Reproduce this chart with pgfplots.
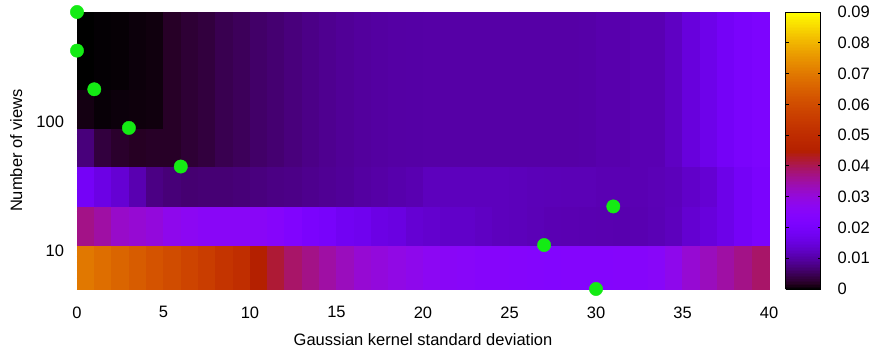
\documentclass[border=0pt]{standalone}
\usepackage{pgfplots}
\pgfplotsset{compat=1.18}
\usepackage{fontspec}
\setmainfont{Liberation Sans}
\definecolor{ptgreen}{RGB}{20,235,20}
% gnuplot default palette (rgbformulae 7,5,15), sampled every 0.02
\pgfplotsset{colormap={gpcolor}{
 rgb=(0,0,0) rgb=(0.1414,0,0.1253) rgb=(0.2,0.0001,0.2487) rgb=(0.2449,0.0002,0.3681)
 rgb=(0.2828,0.0005,0.4818) rgb=(0.3162,0.001,0.5878) rgb=(0.3464,0.0017,0.6845)
 rgb=(0.3742,0.0027,0.7705) rgb=(0.4,0.0041,0.8443) rgb=(0.4243,0.0058,0.9048)
 rgb=(0.4472,0.008,0.9511) rgb=(0.469,0.0106,0.9823) rgb=(0.4899,0.0138,0.998)
 rgb=(0.5099,0.0176,0.998) rgb=(0.5292,0.022,0.9823) rgb=(0.5477,0.027,0.9511)
 rgb=(0.5657,0.0328,0.9048) rgb=(0.5831,0.0393,0.8443) rgb=(0.6,0.0467,0.7705)
 rgb=(0.6164,0.0549,0.6845) rgb=(0.6325,0.064,0.5878) rgb=(0.6481,0.0741,0.4818)
 rgb=(0.6633,0.0852,0.3681) rgb=(0.6782,0.0973,0.2487) rgb=(0.6928,0.1106,0.1253)
 rgb=(0.7071,0.125,0) rgb=(0.7211,0.1406,0) rgb=(0.7348,0.1575,0) rgb=(0.7483,0.1756,0)
 rgb=(0.7616,0.1951,0) rgb=(0.7746,0.216,0) rgb=(0.7874,0.2383,0) rgb=(0.8,0.2621,0)
 rgb=(0.8124,0.2875,0) rgb=(0.8246,0.3144,0) rgb=(0.8367,0.343,0) rgb=(0.8485,0.3732,0)
 rgb=(0.8602,0.4052,0) rgb=(0.8718,0.439,0) rgb=(0.8832,0.4746,0) rgb=(0.8944,0.512,0)
 rgb=(0.9055,0.5514,0) rgb=(0.9165,0.5927,0) rgb=(0.9274,0.6361,0) rgb=(0.9381,0.6815,0)
 rgb=(0.9487,0.729,0) rgb=(0.9592,0.7787,0) rgb=(0.9695,0.8306,0) rgb=(0.9798,0.8847,0)
 rgb=(0.9899,0.9412,0) rgb=(1,1,0)}}
\begin{document}
\begin{tikzpicture}
\useasboundingbox (-77pt,-64pt) rectangle (793pt,289pt);
\begin{axis}[
  at={(0pt,0pt)}, anchor=south west,
  scale only axis, width=692pt, height=277pt,
  xmin=0, xmax=40, ymin=5, ymax=720, ymode=log,
  xtick={0,5,...,40},
  ytick={10,100}, yticklabels={10,100},
  minor ytick={5,6,7,8,9,20,30,40,50,60,70,80,90,200,300,400,500,600,700},
  tick align=inside, tick pos=both,
  major tick length=4.5pt, minor tick length=2.5pt,
  every tick/.style={black, line width=0.8pt},
  axis line style={line width=0.8pt},
  tick label style={font=\fontsize{16.5}{19}\selectfont},
  label style={font=\fontsize{16.5}{19}\selectfont},
  /pgf/number format/assume math mode=true,
  xticklabel style={yshift=-14pt},
  yticklabel style={xshift=-9.5pt},
  xlabel={Gaussian kernel standard deviation},
  ylabel={Number of views},
  xlabel style={at={(axis description cs:0.5,-0.184)}, anchor=center},
  ylabel style={at={(axis description cs:-0.088,0.5)}, anchor=center},
  colormap name=gpcolor,
  point meta min=0, point meta max=0.09,
  colorbar sampled,
  colorbar style={
    at={(parent axis.north east)}, anchor=north west, xshift=8pt,
    scale only axis, width=35pt, height=277pt,
    samples=181,
    ymin=0, ymax=0.09, scaled y ticks=false,
    ytick={0,0.01,0.02,0.03,0.04,0.05,0.06,0.07,0.08,0.09},
    yticklabels={0,0.01,0.02,0.03,0.04,0.05,0.06,0.07,0.08,0.09},
    tick align=inside, ytick pos=both, yticklabel pos=right,
    major tick length=3pt,
    every tick/.style={black, line width=0.8pt},
    axis line style={line width=0.8pt},
    yticklabel style={font=\fontsize{16.5}{19}\selectfont, xshift=13.5pt},
  },
  clip=false,
]
\addplot[surf, shader=flat corner, mesh/cols=41, point meta=explicit]
table[x=x, y=y, meta=c, row sep=\\] {
x y c\\
0 5 0.070\\ 1 5 0.068\\ 2 5 0.066\\ 3 5 0.064\\ 4 5 0.062\\ 5 5 0.060\\ 6 5 0.058\\ 7 5 0.056\\ 8 5 0.053\\ 9 5 0.051\\
10 5 0.045\\ 11 5 0.042\\ 12 5 0.039\\ 13 5 0.037\\ 14 5 0.035\\ 15 5 0.033\\ 16 5 0.031\\ 17 5 0.030\\ 18 5 0.029\\ 19 5 0.028\\
20 5 0.027\\ 21 5 0.026\\ 22 5 0.0255\\ 23 5 0.025\\ 24 5 0.0248\\ 25 5 0.0245\\ 26 5 0.0242\\ 27 5 0.0238\\ 28 5 0.0240\\ 29 5 0.0241\\
30 5 0.0242\\ 31 5 0.0244\\ 32 5 0.0248\\ 33 5 0.0255\\ 34 5 0.028\\ 35 5 0.031\\ 36 5 0.033\\ 37 5 0.035\\ 38 5 0.037\\ 39 5 0.039\\ 40 5 0.039\\
0 11 0.037\\ 1 11 0.035\\ 2 11 0.032\\ 3 11 0.031\\ 4 11 0.030\\ 5 11 0.028\\ 6 11 0.027\\ 7 11 0.026\\ 8 11 0.026\\ 9 11 0.026\\
10 11 0.026\\ 11 11 0.025\\ 12 11 0.023\\ 13 11 0.021\\ 14 11 0.020\\ 15 11 0.018\\ 16 11 0.0175\\ 17 11 0.016\\ 18 11 0.0155\\ 19 11 0.014\\
20 11 0.0135\\ 21 11 0.013\\ 22 11 0.013\\ 23 11 0.0125\\ 24 11 0.012\\ 25 11 0.0118\\ 26 11 0.0115\\ 27 11 0.0112\\ 28 11 0.0111\\ 29 11 0.0110\\
30 11 0.0109\\ 31 11 0.0108\\ 32 11 0.0110\\ 33 11 0.0113\\ 34 11 0.0120\\ 35 11 0.0138\\ 36 11 0.0150\\ 37 11 0.0165\\ 38 11 0.0190\\ 39 11 0.0210\\ 40 11 0.0210\\
0 22 0.019\\ 1 22 0.016\\ 2 22 0.014\\ 3 22 0.011\\ 4 22 0.0078\\ 5 22 0.0070\\ 6 22 0.0066\\ 7 22 0.0068\\ 8 22 0.0068\\ 9 22 0.0070\\
10 22 0.0074\\ 11 22 0.0078\\ 12 22 0.0080\\ 13 22 0.0085\\ 14 22 0.0089\\ 15 22 0.0092\\ 16 22 0.0098\\ 17 22 0.0102\\ 18 22 0.0106\\ 19 22 0.0110\\
20 22 0.0120\\ 21 22 0.0120\\ 22 22 0.0120\\ 23 22 0.0120\\ 24 22 0.0120\\ 25 22 0.0118\\ 26 22 0.0116\\ 27 22 0.0115\\ 28 22 0.0114\\ 29 22 0.0114\\
30 22 0.0112\\ 31 22 0.0112\\ 32 22 0.0112\\ 33 22 0.0114\\ 34 22 0.0118\\ 35 22 0.0130\\ 36 22 0.0140\\ 37 22 0.0165\\ 38 22 0.0190\\ 39 22 0.0210\\ 40 22 0.0210\\
0 45 0.0072\\ 1 45 0.0035\\ 2 45 0.0025\\ 3 45 0.0020\\ 4 45 0.0022\\ 5 45 0.0022\\ 6 45 0.0030\\ 7 45 0.0035\\ 8 45 0.0046\\ 9 45 0.0052\\
10 45 0.0060\\ 11 45 0.0066\\ 12 45 0.0073\\ 13 45 0.0080\\ 14 45 0.0086\\ 15 45 0.0091\\ 16 45 0.0095\\ 17 45 0.0098\\ 18 45 0.0100\\ 19 45 0.0101\\
20 45 0.0102\\ 21 45 0.0102\\ 22 45 0.0102\\ 23 45 0.0102\\ 24 45 0.0102\\ 25 45 0.0102\\ 26 45 0.0102\\ 27 45 0.0102\\ 28 45 0.0102\\ 29 45 0.0103\\
30 45 0.0107\\ 31 45 0.0107\\ 32 45 0.0112\\ 33 45 0.0112\\ 34 45 0.0125\\ 35 45 0.0150\\ 36 45 0.0167\\ 37 45 0.0190\\ 38 45 0.0205\\ 39 45 0.0216\\ 40 45 0.0216\\
0 90 0.0010\\ 1 90 0.0004\\ 2 90 0.0006\\ 3 90 0.0007\\ 4 90 0.0008\\ 5 90 0.0022\\ 6 90 0.0030\\ 7 90 0.0035\\ 8 90 0.0046\\ 9 90 0.0052\\
10 90 0.0060\\ 11 90 0.0066\\ 12 90 0.0073\\ 13 90 0.0080\\ 14 90 0.0086\\ 15 90 0.0091\\ 16 90 0.0095\\ 17 90 0.0098\\ 18 90 0.0100\\ 19 90 0.0101\\
20 90 0.0102\\ 21 90 0.0102\\ 22 90 0.0102\\ 23 90 0.0102\\ 24 90 0.0102\\ 25 90 0.0102\\ 26 90 0.0102\\ 27 90 0.0102\\ 28 90 0.0102\\ 29 90 0.0103\\
30 90 0.0107\\ 31 90 0.0107\\ 32 90 0.0112\\ 33 90 0.0112\\ 34 90 0.0125\\ 35 90 0.0150\\ 36 90 0.0167\\ 37 90 0.0190\\ 38 90 0.0205\\ 39 90 0.0216\\ 40 90 0.0216\\
0 180 0.0000\\ 1 180 0.0002\\ 2 180 0.0003\\ 3 180 0.0006\\ 4 180 0.0008\\ 5 180 0.0022\\ 6 180 0.0030\\ 7 180 0.0035\\ 8 180 0.0046\\ 9 180 0.0052\\
10 180 0.0060\\ 11 180 0.0066\\ 12 180 0.0073\\ 13 180 0.0080\\ 14 180 0.0086\\ 15 180 0.0091\\ 16 180 0.0095\\ 17 180 0.0098\\ 18 180 0.0100\\ 19 180 0.0101\\
20 180 0.0102\\ 21 180 0.0102\\ 22 180 0.0102\\ 23 180 0.0102\\ 24 180 0.0102\\ 25 180 0.0102\\ 26 180 0.0102\\ 27 180 0.0102\\ 28 180 0.0102\\ 29 180 0.0103\\
30 180 0.0107\\ 31 180 0.0107\\ 32 180 0.0112\\ 33 180 0.0112\\ 34 180 0.0125\\ 35 180 0.0150\\ 36 180 0.0167\\ 37 180 0.0190\\ 38 180 0.0205\\ 39 180 0.0216\\ 40 180 0.0216\\
0 360 0.0000\\ 1 360 0.0002\\ 2 360 0.0003\\ 3 360 0.0006\\ 4 360 0.0008\\ 5 360 0.0022\\ 6 360 0.0030\\ 7 360 0.0035\\ 8 360 0.0046\\ 9 360 0.0052\\
10 360 0.0060\\ 11 360 0.0066\\ 12 360 0.0073\\ 13 360 0.0080\\ 14 360 0.0086\\ 15 360 0.0091\\ 16 360 0.0095\\ 17 360 0.0098\\ 18 360 0.0100\\ 19 360 0.0101\\
20 360 0.0102\\ 21 360 0.0102\\ 22 360 0.0102\\ 23 360 0.0102\\ 24 360 0.0102\\ 25 360 0.0102\\ 26 360 0.0102\\ 27 360 0.0102\\ 28 360 0.0102\\ 29 360 0.0103\\
30 360 0.0107\\ 31 360 0.0107\\ 32 360 0.0112\\ 33 360 0.0112\\ 34 360 0.0125\\ 35 360 0.0150\\ 36 360 0.0167\\ 37 360 0.0190\\ 38 360 0.0205\\ 39 360 0.0216\\ 40 360 0.0216\\
0 720 0.0000\\ 1 720 0.0002\\ 2 720 0.0003\\ 3 720 0.0006\\ 4 720 0.0008\\ 5 720 0.0022\\ 6 720 0.0030\\ 7 720 0.0035\\ 8 720 0.0046\\ 9 720 0.0052\\
10 720 0.0060\\ 11 720 0.0066\\ 12 720 0.0073\\ 13 720 0.0080\\ 14 720 0.0086\\ 15 720 0.0091\\ 16 720 0.0095\\ 17 720 0.0098\\ 18 720 0.0100\\ 19 720 0.0101\\
20 720 0.0102\\ 21 720 0.0102\\ 22 720 0.0102\\ 23 720 0.0102\\ 24 720 0.0102\\ 25 720 0.0102\\ 26 720 0.0102\\ 27 720 0.0102\\ 28 720 0.0102\\ 29 720 0.0103\\
30 720 0.0107\\ 31 720 0.0107\\ 32 720 0.0112\\ 33 720 0.0112\\ 34 720 0.0125\\ 35 720 0.0150\\ 36 720 0.0167\\ 37 720 0.0190\\ 38 720 0.0205\\ 39 720 0.0216\\ 40 720 0.0216\\
};
% best sigma for each number of views
\addplot[only marks, mark=*, mark size=6.7pt, color=ptgreen] coordinates {
(0,720) (0,360) (1,180) (3,90) (6,45) (31,22) (27,11) (30,5)};
\end{axis}
\end{tikzpicture}
\end{document}
